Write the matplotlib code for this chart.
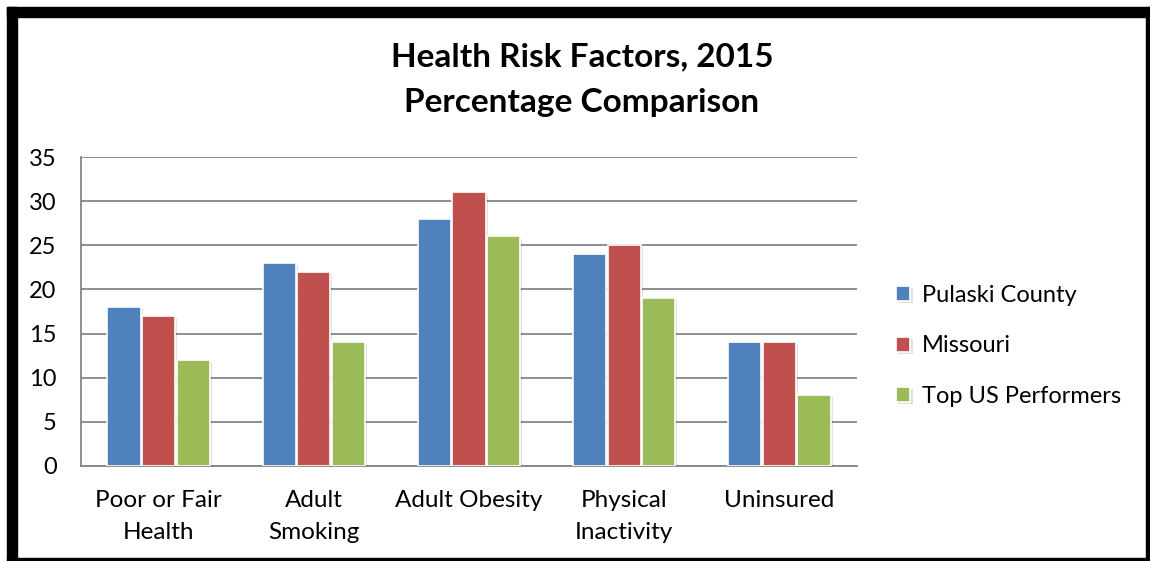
import matplotlib
matplotlib.use('Agg')
import matplotlib.pyplot as plt
import matplotlib.patheffects as pe
from matplotlib.patches import Rectangle
import numpy as np

categories = ['Poor or Fair\nHealth', 'Adult\nSmoking', 'Adult Obesity', 'Physical\nInactivity', 'Uninsured']
pulaski = [18, 23, 28, 24, 14]
missouri = [17, 22, 31, 25, 14]
top_us = [12, 14, 26, 19, 8]
series_names = ['Pulaski County', 'Missouri', 'Top US Performers']
colors = ['#4F81BD', '#C0504D', '#9BBB59']

plt.rcParams['font.family'] = ['Lato', 'DejaVu Sans']

W, H = 1150, 561
fig = plt.figure(figsize=(W / 100, H / 100), dpi=100)
ax = fig.add_axes([81 / W, 1 - 466 / H, (857 - 81) / W, (466 - 157) / H])

x = np.arange(len(categories))
bw = 0.213
shadow = [pe.SimplePatchShadow(offset=(1.5, -1.5), shadow_rgbFace='#000000', alpha=0.12), pe.Normal()]
for i, (vals, name, c) in enumerate(zip([pulaski, missouri, top_us], series_names, colors)):
    bars = ax.bar(x + (i - 1) * (bw + 0.01), vals, bw, color=c, edgecolor='white',
                  linewidth=1.2, label=name, zorder=3)
    for b in bars:
        b.set_path_effects(shadow)

ax.set_xlim(-0.5, len(categories) - 0.5)
ax.set_ylim(0, 35)
ax.set_yticks(range(0, 36, 5))
ax.set_xticks(x)
ax.set_xticklabels(categories, fontsize=17.5, linespacing=1.65)
ax.tick_params(axis='y', labelsize=17, length=0, pad=17.5)
ax.tick_params(axis='x', length=0, pad=17)
ax.yaxis.grid(True, color='#868686', linewidth=1.3, zorder=0)
for s in ['top', 'right']:
    ax.spines[s].set_visible(False)
for s in ['left', 'bottom']:
    ax.spines[s].set_color('#868686')
    ax.spines[s].set_linewidth(1.3)

fig.text(582 / W, 1 - 57 / H, 'Health Risk Factors, 2015', ha='center', va='center',
         fontsize=24, fontweight='bold')
fig.text(582 / W, 1 - 102 / H, 'Percentage Comparison', ha='center', va='center',
         fontsize=24, fontweight='bold')

leg = fig.legend(loc='center left', bbox_to_anchor=(875 / W, 1 - 346 / H), frameon=False,
                 fontsize=17, handlelength=0.6, handleheight=0.6, handletextpad=0.5,
                 labelspacing=1.25)

# black frame around the chart
frame = [(7, 7, 1143, 10), (7, 7, 10, 554), (1146, 7, 4, 554), (7, 558, 1143, 3)]
for fx, fy, fw, fh in frame:
    fig.patches.append(Rectangle((fx / W, 1 - (fy + fh) / H), fw / W, fh / H,
                                 transform=fig.transFigure, color='black', zorder=10))

fig.savefig('out.png', dpi=100)
